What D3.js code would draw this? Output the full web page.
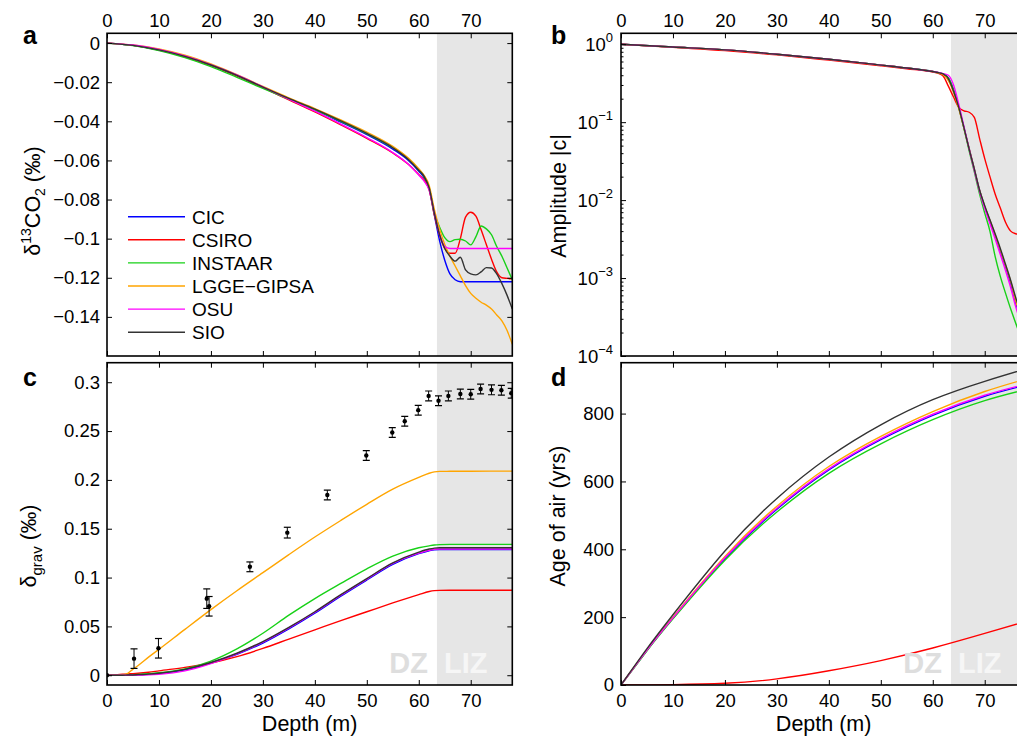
<!DOCTYPE html>
<html><head><meta charset="utf-8">
<script src="https://cdn.jsdelivr.net/npm/d3@7"></script>
<style>
body{margin:0;background:#fff}
svg{display:block}
text{font-family:"Liberation Sans",Arial,Helvetica,sans-serif;fill:#000}
</style>
</head><body>
<svg id="chart" width="1017" height="736"></svg>
<script>
// ---------------- DATA ----------------
const models = ["CIC", "CSIRO", "INSTAAR", "LGGE\u2212GIPSA", "OSU", "SIO"];
const modelColors = ["#0000ff", "#ff0000", "#17d117", "#ffa500", "#ff00ff", "#333333"];

const xTicks = [0, 10, 20, 30, 40, 50, 60, 70];
const liz = 63.5; // DZ / LIZ boundary depth (m)

// panel a: d13CO2 (permil)
const depthA = [0,5,10,15,20,25,30,35,40,45,50,55,58,60,61,62,63,64,65,66,67,68,69,70,71,72,73,74,75,76,77,78];
const d13C_CIC     = [0,-0.0012,-0.0036,-0.0069,-0.0113,-0.0167,-0.0226,-0.0285,-0.0342,-0.0404,-0.0468,-0.0542,-0.0600,-0.0655,-0.0688,-0.0745,-0.088,-0.101,-0.111,-0.118,-0.121,-0.122,-0.122,-0.122,-0.122,-0.122,-0.122,-0.122,-0.122,-0.122,-0.122,-0.122];
const d13C_CSIRO   = [0,-0.0012,-0.0036,-0.0070,-0.0114,-0.0168,-0.0228,-0.0290,-0.0352,-0.0418,-0.0487,-0.0562,-0.0620,-0.0672,-0.0700,-0.0750,-0.088,-0.098,-0.105,-0.1075,-0.1075,-0.100,-0.089,-0.0865,-0.0885,-0.0955,-0.103,-0.1105,-0.117,-0.120,-0.1203,-0.1205];
const d13C_INSTAAR = [0,-0.0013,-0.0038,-0.0074,-0.0120,-0.0175,-0.0232,-0.0287,-0.0342,-0.0400,-0.0463,-0.0535,-0.0592,-0.0648,-0.0680,-0.0738,-0.087,-0.094,-0.0995,-0.1015,-0.1005,-0.1003,-0.1012,-0.1032,-0.099,-0.0935,-0.095,-0.098,-0.104,-0.109,-0.115,-0.121];
const d13C_LGGE    = [0,-0.0010,-0.0030,-0.0062,-0.0107,-0.0162,-0.0222,-0.0280,-0.0335,-0.0393,-0.0455,-0.0528,-0.0588,-0.0642,-0.0675,-0.0728,-0.085,-0.095,-0.103,-0.109,-0.114,-0.119,-0.124,-0.128,-0.1305,-0.1325,-0.134,-0.136,-0.139,-0.142,-0.147,-0.154];
const d13C_OSU     = [0,-0.0010,-0.0033,-0.0066,-0.0110,-0.0163,-0.0224,-0.0287,-0.0348,-0.0414,-0.0483,-0.0560,-0.0620,-0.0675,-0.0705,-0.0752,-0.087,-0.098,-0.104,-0.105,-0.105,-0.105,-0.105,-0.105,-0.105,-0.105,-0.105,-0.105,-0.105,-0.105,-0.105,-0.105];
const d13C_SIO     = [0,-0.0012,-0.0035,-0.0068,-0.0112,-0.0165,-0.0225,-0.0283,-0.0338,-0.0398,-0.0462,-0.0535,-0.0595,-0.0650,-0.0680,-0.0740,-0.087,-0.098,-0.105,-0.109,-0.1115,-0.1095,-0.116,-0.118,-0.1185,-0.117,-0.1148,-0.115,-0.118,-0.123,-0.129,-0.136];
const yTicksA = [0,-0.02,-0.04,-0.06,-0.08,-0.1,-0.12,-0.14];

// panel b: amplitude |c|
const depthB = [0,10,20,30,40,50,55,60,61,62,63,64,65,66,67,68,69,70,71,72,73,74,75,76,77,78];
const amp_CIC     = [1.0,0.92,0.845,0.745,0.64,0.54,0.495,0.446,0.432,0.412,0.37,0.26,0.155,0.085,0.046,0.025,0.0135,0.0082,0.0054,0.0035,0.0022,0.0014,0.00085,0.00047,0.0003,0.00019];
const amp_CSIRO   = [1.0,0.91,0.83,0.73,0.625,0.53,0.485,0.44,0.425,0.39,0.29,0.21,0.155,0.140,0.134,0.115,0.062,0.034,0.020,0.012,0.0079,0.0052,0.0040,0.0037,0.0036,0.0036];
const amp_INSTAAR = [1.0,0.92,0.845,0.745,0.64,0.54,0.495,0.446,0.432,0.415,0.37,0.26,0.155,0.083,0.043,0.023,0.012,0.0068,0.0040,0.0019,0.00105,0.00064,0.0004,0.00026,0.00017,0.00011];
const amp_LGGE    = [1.0,0.92,0.845,0.745,0.64,0.54,0.495,0.446,0.43,0.405,0.34,0.24,0.15,0.084,0.046,0.025,0.0135,0.0083,0.0055,0.0036,0.0023,0.00145,0.0009,0.0005,0.00032,0.0002];
const amp_OSU     = [1.0,0.92,0.845,0.745,0.64,0.54,0.495,0.446,0.435,0.42,0.40,0.30,0.17,0.088,0.045,0.024,0.013,0.0078,0.0050,0.0032,0.0020,0.00125,0.00075,0.00042,0.00026,0.00016];
const amp_SIO     = [1.0,0.92,0.845,0.745,0.64,0.54,0.495,0.446,0.433,0.415,0.36,0.25,0.155,0.085,0.045,0.025,0.0135,0.0085,0.0056,0.0037,0.0024,0.0015,0.00093,0.00055,0.00035,0.00022];
const yTicksB = [1e-4,1e-3,1e-2,1e-1,1];
const yTickExpB = ["\u22124","\u22123","\u22122","\u22121","0"];

// panel c: delta grav (permil)
const depthC = [0,2,3,4,5,6,8,10,15,20,25,30,35,40,45,50,55,60,62,63,64,66,70,78];
const grav_CIC     = [0,0,0,0.0002,0.0003,0.0005,0.001,0.0018,0.0055,0.0125,0.0215,0.033,0.0475,0.0635,0.081,0.0975,0.1135,0.1245,0.1275,0.1285,0.1288,0.1288,0.1288,0.1288];
const grav_CSIRO   = [0,0.0006,0.001,0.0013,0.0017,0.002,0.003,0.0045,0.008,0.0125,0.019,0.0275,0.037,0.0465,0.056,0.065,0.074,0.0825,0.0857,0.0866,0.0869,0.087,0.087,0.087];
const grav_INSTAAR = [0,0,0,0.0003,0.0005,0.0008,0.0015,0.0025,0.0065,0.0145,0.027,0.043,0.0615,0.0785,0.094,0.109,0.122,0.1305,0.1325,0.1333,0.1337,0.134,0.134,0.134];
const grav_LGGE    = [0,0,0.0005,0.002,0.0062,0.010,0.0185,0.0265,0.047,0.0672,0.0865,0.105,0.1235,0.1415,0.1585,0.175,0.1905,0.2025,0.2068,0.2082,0.2087,0.2088,0.2089,0.209];
const grav_OSU     = [0,0,0,0,0.0001,0.0002,0.0004,0.001,0.0045,0.012,0.022,0.034,0.0485,0.0645,0.082,0.0985,0.1145,0.125,0.128,0.129,0.1292,0.1292,0.1292,0.1292];
const grav_SIO     = [0,0,0,0.0002,0.0003,0.0006,0.0011,0.002,0.006,0.013,0.0225,0.0345,0.049,0.065,0.0825,0.099,0.115,0.126,0.1292,0.1302,0.1306,0.1306,0.1306,0.1306];
const obsDepth = [0,5.2,9.9,19.2,19.65,27.5,34.7,42.4,49.9,54.9,57.3,59.9,61.9,63.8,65.7,68.0,70.0,71.9,74.0,75.9,77.8];
const obsValue = [0,0.017,0.0276,0.0784,0.0706,0.111,0.146,0.1845,0.225,0.2485,0.26,0.2714,0.286,0.281,0.286,0.288,0.2877,0.293,0.2922,0.2918,0.2888];
const obsError = [0,0.01,0.01,0.01,0.01,0.005,0.0055,0.005,0.005,0.005,0.005,0.005,0.005,0.005,0.005,0.005,0.005,0.005,0.005,0.005,0.005];
const yTicksC = [0,0.05,0.1,0.15,0.2,0.25,0.3];

// panel d: age of air (yrs)
const depthD = [0,5,10,20,30,40,50,60,70,78];
const age_CIC     = [0,102,197,372,518,634,723,795,851,884];
const age_CSIRO   = [0,0.2,1,5,18,42,72,109,152,188];
const age_INSTAAR = [0,101,195,368,510,624,711,782,838,871];
const age_LGGE    = [0,104,200,379,527,644,733,806,865,902];
const age_OSU     = [0,103,198,375,521,637,726,798,854,887];
const age_SIO     = [0,107,207,395,550,672,767,841,895,932];
const yTicksD = [0,200,400,600,800];

// ---------------- DRAWING ----------------
const svg = d3.select("#chart");
const TICK_FS = 18.5, LABEL_FS = 21.5;
const L1 = 107, R1 = 512.3, L2 = 621, R2 = 1026.3;
const T1 = 33.3, B1 = 356, T2 = 362.7, B2 = 685;

const fmtTick = v => (v < 0 ? "\u2212" : "") + String(Math.abs(v));

function makePanel(id, left, right, top, bottom, yScaleType, yDomain) {
  const x = d3.scaleLinear().domain([0, 78]).range([left, right]);
  const y = (yScaleType === "log" ? d3.scaleLog() : d3.scaleLinear()).domain(yDomain).range([bottom, top]);
  const g = svg.append("g").attr("id", id);
  const cid = "clip-" + id;
  g.append("clipPath").attr("id", cid).append("rect")
    .attr("x", left).attr("y", top).attr("width", right - left).attr("height", bottom - top);
  g.append("rect").attr("x", x(liz)).attr("y", top).attr("width", x(78) - x(liz)).attr("height", bottom - top)
    .attr("fill", "#e6e6e6");
  const plot = g.append("g").attr("clip-path", `url(#${cid})`);
  return {x, y, g, plot, left, right, top, bottom};
}

function drawSeries(p, depth, seriesList, curve) {
  const line = d3.line().x((d, i) => p.x(depth[i])).y(d => p.y(d)).curve(curve || d3.curveMonotoneX);
  seriesList.forEach((s, i) => {
    p.plot.append("path").attr("d", line(s)).attr("fill", "none")
      .attr("stroke", modelColors[i]).attr("stroke-width", 1.4).attr("stroke-linejoin", "round");
  });
}

function drawFrame(p, opts) {
  const {x, y, g, left, right, top, bottom} = p;
  const axB = g.append("g").attr("transform", `translate(0,${bottom})`)
    .call(d3.axisBottom(x).tickValues(xTicks).tickSizeInner(-5).tickSizeOuter(0).tickPadding(9)
      .tickFormat(opts.xLabelsBottom ? d => d : () => ""));
  const axT = g.append("g").attr("transform", `translate(0,${top})`)
    .call(d3.axisTop(x).tickValues(xTicks).tickSizeInner(-5).tickSizeOuter(0).tickPadding(6)
      .tickFormat(opts.xLabelsTop ? d => d : () => ""));
  let axL, axR;
  if (opts.log) {
    axL = g.append("g").attr("transform", `translate(${left},0)`)
      .call(d3.axisLeft(y).tickValues(opts.yTicks).tickSizeInner(-5).tickSizeOuter(0).tickFormat(() => ""));
    axR = g.append("g").attr("transform", `translate(${right},0)`)
      .call(d3.axisRight(y).tickValues(opts.yTicks).tickSizeInner(-5).tickSizeOuter(0).tickFormat(() => ""));
    const minors = [];
    for (let k = -4; k <= 0; k++) for (let m = 2; m <= 9; m++) {
      const v = m * Math.pow(10, k);
      if (v <= y.domain()[1]) minors.push(v);
    }
    g.append("g").attr("transform", `translate(${left},0)`)
      .call(d3.axisLeft(y).tickValues(minors).tickSizeInner(-2.5).tickSizeOuter(0).tickFormat(() => ""))
      .call(a => a.select(".domain").remove());
    g.append("g").attr("transform", `translate(${right},0)`)
      .call(d3.axisRight(y).tickValues(minors).tickSizeInner(-2.5).tickSizeOuter(0).tickFormat(() => ""))
      .call(a => a.select(".domain").remove());
    opts.yTicks.forEach((v, i) => {
      const t = g.append("text").attr("x", left - 8).attr("y", y(v) + 7)
        .attr("text-anchor", "end").attr("font-size", TICK_FS);
      t.append("tspan").text("10");
      t.append("tspan").attr("dy", -9).attr("font-size", 13).text(yTickExpB[i]);
    });
  } else {
    axL = g.append("g").attr("transform", `translate(${left},0)`)
      .call(d3.axisLeft(y).tickValues(opts.yTicks).tickSizeInner(-5).tickSizeOuter(0).tickPadding(7)
        .tickFormat(fmtTick));
    axR = g.append("g").attr("transform", `translate(${right},0)`)
      .call(d3.axisRight(y).tickValues(opts.yTicks).tickSizeInner(-5).tickSizeOuter(0).tickFormat(() => ""));
  }
  [axB, axT, axL, axR].forEach(a => {
    a.select(".domain").remove();
    a.selectAll(".tick text").attr("font-size", TICK_FS).attr("fill", "#000")
      .attr("font-family", '"Liberation Sans",Arial,sans-serif');
  });
  g.selectAll(".tick line").attr("stroke", "#000").attr("stroke-width", 1);
  g.append("rect").attr("x", left).attr("y", top).attr("width", right - left).attr("height", bottom - top)
    .attr("fill", "none").attr("stroke", "#000").attr("stroke-width", 1.6);
}

// ---- Panel a ----
const pa = makePanel("a", L1, R1, T1, B1, "linear", [-0.16, 0.005]);
drawSeries(pa, depthA, [d13C_CIC, d13C_CSIRO, d13C_INSTAAR, d13C_LGGE, d13C_OSU, d13C_SIO]);
drawFrame(pa, {xLabelsTop: true, xLabelsBottom: false, yTicks: yTicksA});

const legY0 = 216.7, legDY = 23.1;
models.forEach((m, i) => {
  const yy = legY0 + i * legDY;
  pa.g.append("line").attr("x1", 128).attr("x2", 185).attr("y1", yy).attr("y2", yy)
    .attr("stroke", modelColors[i]).attr("stroke-width", 1.4);
  pa.g.append("text").attr("x", 192).attr("y", yy + 7).attr("font-size", 19).text(m);
});

// ---- Panel b ----
const pb = makePanel("b", L2, R2, T1, B1, "log", [1e-4, Math.pow(10, 0.14)]);
drawSeries(pb, depthB, [amp_CIC, amp_CSIRO, amp_INSTAAR, amp_LGGE, amp_OSU, amp_SIO]);
drawFrame(pb, {xLabelsTop: true, xLabelsBottom: false, yTicks: yTicksB, log: true});

// ---- Panel c ----
const pc = makePanel("c", L1, R1, T2, B2, "linear", [-0.01, 0.32]);
function zoneText(p) {
  p.g.append("text").attr("x", p.x(liz) - 9).attr("y", 673).attr("text-anchor", "end")
    .attr("font-size", 29).attr("font-weight", "bold").style("fill", "#dedede").text("DZ");
  p.g.append("text").attr("x", p.x(liz) + 7).attr("y", 673).attr("text-anchor", "start")
    .attr("font-size", 29).attr("font-weight", "bold").style("fill", "#f6f6f6").text("LIZ");
}
zoneText(pc);
drawSeries(pc, depthC, [grav_CIC, grav_CSIRO, grav_INSTAAR, grav_LGGE, grav_OSU, grav_SIO], d3.curveMonotoneX);
obsDepth.forEach((dpt, i) => {
  const cx = pc.x(dpt), v = obsValue[i], e = obsError[i];
  const gg = pc.plot.append("g");
  if (e > 0) {
    gg.append("line").attr("x1", cx).attr("x2", cx).attr("y1", pc.y(v - e)).attr("y2", pc.y(v + e))
      .attr("stroke", "#000").attr("stroke-width", 1);
    [v - e, v + e].forEach(vv => gg.append("line").attr("x1", cx - 3.5).attr("x2", cx + 3.5)
      .attr("y1", pc.y(vv)).attr("y2", pc.y(vv)).attr("stroke", "#000").attr("stroke-width", 1.2));
  }
  gg.append("circle").attr("cx", cx).attr("cy", pc.y(v)).attr("r", 2.2).attr("fill", "#000");
});
drawFrame(pc, {xLabelsTop: false, xLabelsBottom: true, yTicks: yTicksC});

// ---- Panel d ----
const pd = makePanel("d", L2, R2, T2, B2, "linear", [0, 950]);
zoneText(pd);
drawSeries(pd, depthD, [age_CIC, age_CSIRO, age_INSTAAR, age_LGGE, age_OSU, age_SIO], d3.curveNatural);
drawFrame(pd, {xLabelsTop: false, xLabelsBottom: true, yTicks: yTicksD});

// ---- Panel letters ----
[["a", 23, 44], ["b", 551, 44], ["c", 23, 386], ["d", 551, 386]].forEach(([t, xx, yy]) => {
  svg.append("text").attr("x", xx).attr("y", yy).attr("font-size", 25).attr("font-weight", "bold").text(t);
});

// ---- Axis titles ----
svg.append("text").attr("x", (L1 + R1) / 2).attr("y", 731).attr("text-anchor", "middle")
  .attr("font-size", LABEL_FS).text("Depth (m)");
svg.append("text").attr("x", (L2 + R2) / 2).attr("y", 731).attr("text-anchor", "middle")
  .attr("font-size", LABEL_FS).text("Depth (m)");

function vLabel(cx, cy, build) {
  const t = svg.append("text").attr("transform", `translate(${cx},${cy}) rotate(-90)`)
    .attr("text-anchor", "middle").attr("font-size", LABEL_FS);
  build(t);
}
vLabel(40, 201, t => {
  t.append("tspan").text("\u03b4");
  t.append("tspan").attr("dy", -9).attr("font-size", 14).text("13");
  t.append("tspan").attr("dy", 9).text("CO");
  t.append("tspan").attr("dy", 5).attr("font-size", 14).text("2");
  t.append("tspan").attr("dy", -5).text(" (\u2030)");
});
vLabel(566, 196, t => t.text("Amplitude |c|"));
vLabel(36, 546, t => {
  t.append("tspan").text("\u03b4");
  t.append("tspan").attr("dy", 6).attr("font-size", 15).text("grav");
  t.append("tspan").attr("dy", -6).text(" (\u2030)");
});
vLabel(565, 516, t => t.text("Age of air (yrs)"));
</script>
</body></html>
